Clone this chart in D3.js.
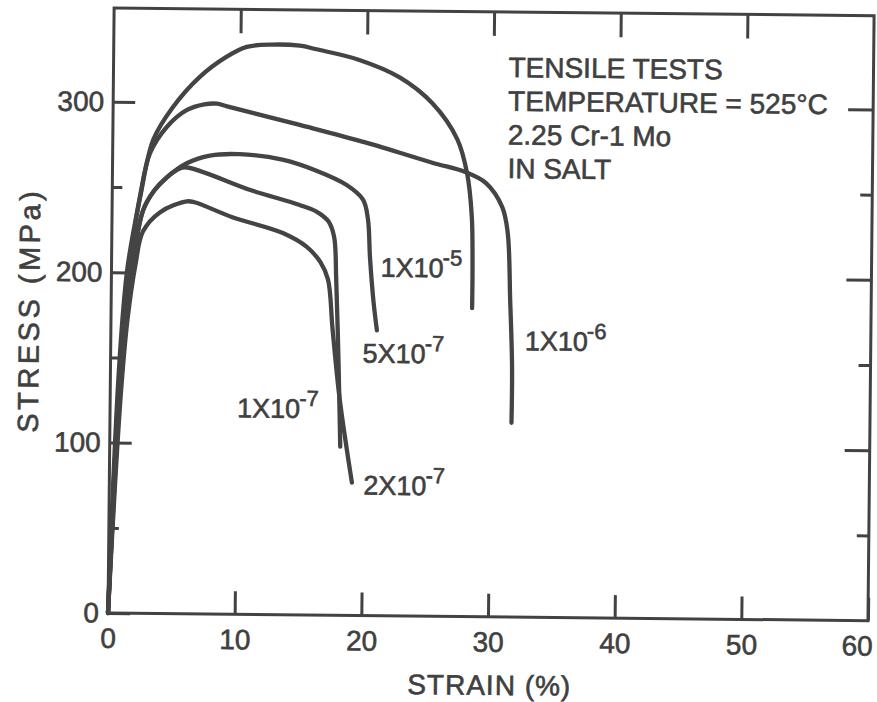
<!DOCTYPE html>
<html>
<head>
<meta charset="utf-8">
<script src="https://cdn.jsdelivr.net/npm/d3@7"></script>
<style>
  body { margin: 0; background: #fff; }
  text { font-family: "Liberation Sans", Arial, sans-serif; fill: #404040; stroke: #404040; stroke-width: 0.6px; }
</style>
</head>
<body>
<svg width="877" height="702"></svg>
<script>
// strain (%) , stress (MPa)
var curve1e5 = [[0,0],[0.3,75],[0.65,140],[1.0,182],[1.3,205],[2.2,244],[3.2,278],[4.7,297],[6.8,315],[8.9,327],[10.5,333],[12.5,334.5],[14.7,334],[16.0,332],[19.4,326],[22.6,316],[25.2,301],[27.2,280],[28.0,260],[28.4,235],[28.5,205],[28.5,181]];
var curve1e6 = [[0,0],[0.35,75],[0.7,135],[1.1,180],[1.6,215],[2.2,245],[2.95,270],[4.25,285.5],[5.8,295.5],[7.2,299],[8.2,299.5],[9.0,298],[14.75,287.5],[20.0,277.5],[25.3,266],[27.8,261],[29.5,254.5],[30.8,240.5],[31.25,225.5],[31.5,186],[31.7,147],[31.7,114]];
var curve5e7 = [[0,0],[0.4,75],[0.8,135],[1.25,180],[1.8,212],[2.45,236.5],[3.3,248],[4.3,256],[5.9,264.5],[7.7,269],[10.0,270],[13.4,267],[16.0,261],[18.5,252.5],[19.8,244],[20.2,233],[20.4,210],[20.7,185],[21.0,167.5]];
var curve2e7 = [[0,0],[0.4,75],[0.8,135],[1.25,180],[1.8,212],[2.45,236.5],[3.3,248],[4.3,256],[5.0,260],[5.7,262],[10.9,249],[14.8,240.5],[16.2,236.5],[17.1,231],[17.55,222],[17.75,197],[18.0,148],[18.2,99]];
var curve1e7 = [[0,0],[0.45,75],[0.85,130],[1.3,172],[1.9,205],[2.45,224],[3.8,235.5],[5.9,242],[6.5,241.5],[9.5,233],[13.5,224],[15.4,216],[16.5,207],[17.1,197],[17.5,168],[18.1,128],[19.15,78]];

var curves = [curve1e5, curve1e6, curve5e7, curve2e7, curve1e7];

var xTicks = [0, 10, 20, 30, 40, 50, 60];
var yMajor = [0, 100, 200, 300];
var yMinor = [50, 150, 250];
var topTicks = [10, 20, 30, 40, 50];

var noteLines = ["TENSILE TESTS", "TEMPERATURE = 525°C", "2.25 Cr-1 Mo", "IN SALT"];
var rateLabels = [
  { base: "1X10", exp: "-5", x: 377, y: 274 },
  { base: "5X10", exp: "-7", x: 360, y: 360 },
  { base: "1X10", exp: "-6", x: 522, y: 346 },
  { base: "1X10", exp: "-7", x: 235, y: 416 },
  { base: "2X10", exp: "-7", x: 362, y: 492 }
];

var ink = "#424242";
var svg = d3.select("svg");
var x0 = 108, y0 = 613, w = 760, h = 605;

var x = d3.scaleLinear().domain([0, 60]).range([x0, x0 + w]);
var y = d3.scaleLinear().domain([0, 355]).range([y0, y0 - h]);

// the scan is slightly turned
var g = svg.append("g").attr("transform", "rotate(0.58," + x0 + "," + y0 + ")");

function styleAxis(sel) {
  sel.select(".domain").remove();
  sel.selectAll(".tick line").attr("stroke", ink).attr("stroke-width", 3);
  sel.selectAll(".tick text").attr("font-size", 28);
}

var xAxis = g.append("g")
  .attr("transform", "translate(0," + y0 + ")")
  .call(d3.axisBottom(x).tickValues(xTicks).tickSize(-23).tickPadding(15).tickFormat(d3.format("d")))
  .call(styleAxis);
// last label sits a little left of its tick in the original
xAxis.selectAll(".tick text").filter(function (d) { return d === 60; }).attr("dx", -11);

g.append("g")
  .attr("transform", "translate(0," + (y0 - h) + ")")
  .call(d3.axisTop(x).tickValues(topTicks).tickSize(-24).tickFormat(""))
  .call(styleAxis);

g.append("g")
  .attr("transform", "translate(" + x0 + ",0)")
  .call(d3.axisLeft(y).tickValues(yMajor).tickSize(-22).tickPadding(9).tickFormat(d3.format("d")))
  .call(styleAxis);

g.append("g")
  .attr("transform", "translate(" + x0 + ",0)")
  .call(d3.axisLeft(y).tickValues(yMinor).tickSize(-10).tickFormat(""))
  .call(styleAxis);

g.append("g")
  .attr("transform", "translate(" + (x0 + w) + ",0)")
  .call(d3.axisRight(y).tickValues(yMajor.slice(1)).tickSize(-25).tickFormat(""))
  .call(styleAxis);

g.append("g")
  .attr("transform", "translate(" + (x0 + w) + ",0)")
  .call(d3.axisRight(y).tickValues(yMinor).tickSize(-12).tickFormat(""))
  .call(styleAxis);

// frame
g.append("rect")
  .attr("x", x0).attr("y", y0 - h)
  .attr("width", w).attr("height", h)
  .attr("fill", "none")
  .attr("stroke", ink)
  .attr("stroke-width", 3);

var line = d3.line()
  .x(function (d) { return x(d[0]); })
  .y(function (d) { return y(d[1]); })
  .curve(d3.curveCatmullRom.alpha(0.5));

g.append("g")
  .selectAll("path")
  .data(curves)
  .enter()
  .append("path")
  .attr("d", line)
  .attr("fill", "none")
  .attr("stroke", "#444")
  .attr("stroke-width", 4.3)
  .attr("stroke-linecap", "round")
  .attr("stroke-linejoin", "round");

// notes
g.append("g")
  .selectAll("text")
  .data(noteLines)
  .enter()
  .append("text")
  .attr("x", 503)
  .attr("y", function (d, i) { return 73 + i * 33.7; })
  .attr("font-size", 28)
  .text(function (d) { return d; });

var lab = g.append("g")
  .selectAll("text")
  .data(rateLabels)
  .enter()
  .append("text")
  .attr("x", function (d) { return d.x; })
  .attr("y", function (d) { return d.y; })
  .attr("font-size", 27);
lab.append("tspan").text(function (d) { return d.base; });
lab.append("tspan")
  .attr("dx", -1)
  .attr("dy", -12)
  .attr("font-size", 22)
  .text(function (d) { return d.exp; });

// axis titles
g.append("text")
  .attr("x", 490).attr("y", 691)
  .attr("text-anchor", "middle")
  .attr("font-size", 28)
  .attr("letter-spacing", 1)
  .text("STRAIN (%)");

g.append("text")
  .attr("transform", "translate(36,311) rotate(-90)")
  .attr("text-anchor", "middle")
  .attr("font-size", 29)
  .attr("letter-spacing", 3.5)
  .text("STRESS (MPa)");
</script>
</body>
</html>
